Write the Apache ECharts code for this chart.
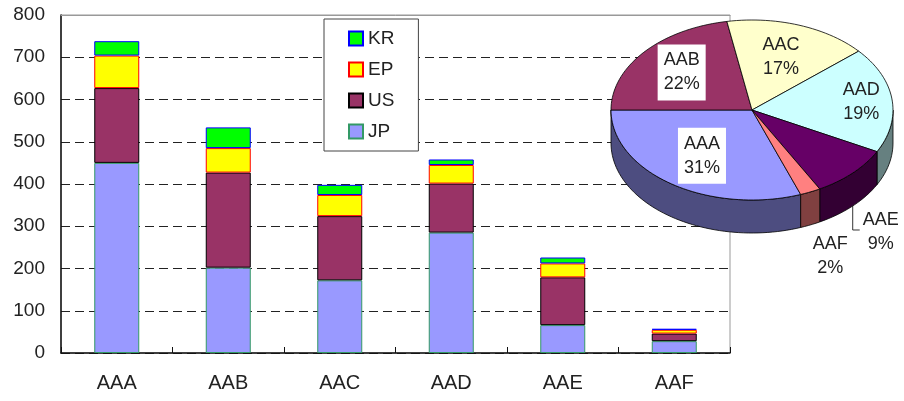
<!DOCTYPE html>
<html lang="en">
<head>
    <meta charset="utf-8">
    <title>Stacked bars with pie</title>
    <script src="https://cdn.jsdelivr.net/npm/echarts@6/dist/echarts.min.js"></script>
    <style>
        html, body { margin: 0; padding: 0; background: #fff; }
        #divChart { width: 904px; height: 401px; }
    </style>
</head>
<body>
<div id="divChart"></div>

<script>
    // categories and stacked values
    var categories = ['AAA', 'AAB', 'AAC', 'AAD', 'AAE', 'AAF'];
    var jp = [450, 202, 172, 285, 66, 28];
    var us = [177, 225, 152, 116, 113, 18];
    var ep = [77, 58, 50, 44, 33, 9];
    var kr = [34, 49, 24, 13, 14, 2];
    var yTicks = [0, 100, 200, 300, 400, 500, 600, 700, 800];

    // pie look (excel-ish 3d)
    var pieTop = ['#9999ff', '#993366', '#ffffcc', '#ccffff', '#660066', '#ff8080'];
    var pieSide = ['#4d4d80', '#4d1a33', '#808066', '#668080', '#330033', '#804040'];
    var labelR = [0.62, 0.65, 0.62, 0.78, 0, 0];

    var FONT = '"Liberation Sans", Arial, sans-serif';

    // pie totals come from the stacked bars
    var totals = [];
    var grand = 0;
    for (var i = 0; i < categories.length; i++) {
        totals.push(jp[i] + us[i] + ep[i] + kr[i]);
        grand += totals[i];
    }

    // layout of the fake 3d pie
    var cx = 752, cy = 110, rx = 141, ry = 90, depth = 33;
    var startT = 180 - 360 * totals[0] / grand;

    var sliceStart = [];
    var acc = startT;
    for (var i = 0; i < totals.length; i++) {
        sliceStart.push(acc);
        acc += 360 * totals[i] / grand;
    }

    function pt(t, dy) {
        var r = t * Math.PI / 180;
        return [cx + rx * Math.cos(r), cy + ry * Math.sin(r) + (dy || 0)];
    }

    function arc(t1, t2, dy) {
        var pts = [];
        var n = Math.max(2, Math.ceil((t2 - t1) / 2));
        for (var k = 0; k <= n; k++) {
            pts.push(pt(t1 + (t2 - t1) * k / n, dy));
        }
        return pts;
    }

    function renderSlice(params, api) {
        var idx = params.dataIndex;
        var span = 360 * api.value(0) / grand;
        var t1 = sliceStart[idx];
        var t2 = t1 + span;
        var children = [];

        // outer wall, only the front half (0..180 in screen angles)
        var ranges = [[0, 180], [360, 540]];
        ranges.forEach(function (rg) {
            var a = Math.max(t1, rg[0]);
            var b = Math.min(t2, rg[1]);
            if (b > a) {
                var topPts = arc(a, b, 0);
                var botPts = arc(a, b, depth).reverse();
                children.push({
                    type: 'polygon',
                    shape: { points: topPts.concat(botPts) },
                    style: { fill: pieSide[idx], stroke: '#000', lineWidth: 0.8 }
                });
            }
        });

        // top face
        children.push({
            type: 'polygon',
            shape: { points: [[cx, cy]].concat(arc(t1, t2, 0)) },
            style: { fill: pieTop[idx], stroke: '#000', lineWidth: 0.8 }
        });

        var pct = Math.round(100 * api.value(0) / grand) + '%';
        var mid = (t1 + t2) / 2 * Math.PI / 180;
        var txt = categories[idx] + '\n' + pct;

        if (labelR[idx] > 0) {
            var boxed = idx < 2;
            children.push({
                type: 'text',
                z2: 10,
                style: {
                    text: txt,
                    x: cx + rx * labelR[idx] * Math.cos(mid),
                    y: cy + ry * labelR[idx] * Math.sin(mid),
                    align: 'center',
                    verticalAlign: 'middle',
                    fontSize: 18,
                    fontFamily: FONT,
                    lineHeight: 24,
                    fill: '#222',
                    backgroundColor: boxed ? '#fff' : null,
                    padding: boxed ? [4, 6] : 0
                }
            });
        } else {
            var edge = pt((t1 + t2) / 2, depth);
            if (idx === 4) {
                children.push({
                    type: 'polyline',
                    shape: { points: [edge, [edge[0], edge[1] + 24], [edge[0] + 7, edge[1] + 24]] },
                    style: { stroke: '#000', lineWidth: 0.8, fill: null }
                });
                children.push({
                    type: 'text',
                    z2: 10,
                    style: {
                        text: txt, x: edge[0] + 28, y: edge[1] + 26,
                        align: 'center', verticalAlign: 'middle',
                        fontSize: 18, fontFamily: FONT, lineHeight: 24, fill: '#222'
                    }
                });
            } else {
                children.push({
                    type: 'text',
                    z2: 10,
                    style: {
                        text: txt, x: edge[0] + 20, y: edge[1] + 31,
                        align: 'center', verticalAlign: 'middle',
                        fontSize: 18, fontFamily: FONT, lineHeight: 24, fill: '#222'
                    }
                });
            }
        }

        return { type: 'group', children: children };
    }

    var myChart = echarts.init(document.getElementById('divChart'));

    var option = {
        animation: false,
        backgroundColor: '#fff',
        textStyle: { fontFamily: FONT },
        legend: {
            data: ['KR', 'EP', 'US', 'JP'],
            orient: 'vertical',
            left: 324,
            top: 19,
            padding: [10, 24, 10, 24],
            itemGap: 12,
            itemWidth: 14,
            itemHeight: 14,
            borderColor: '#444',
            borderWidth: 1,
            backgroundColor: '#fff',
            borderRadius: 0,
            icon: 'rect',
            textStyle: { fontSize: 19, color: '#222', lineHeight: 19, fontFamily: FONT }
        },
        grid: {
            left: 61,
            right: 174,
            top: 15,
            bottom: 48,
            show: true,
            borderColor: '#999',
            borderWidth: 1
        },
        xAxis: [
            {
                type: 'category',
                data: categories,
                axisLine: { lineStyle: { color: '#111', width: 1.5 } },
                axisTick: { show: true, inside: true, length: 6, lineStyle: { color: '#111' } },
                axisLabel: { fontSize: 20, color: '#222', margin: 20, fontFamily: FONT }
            },
            {
                // solid grey frame line on top, drawn over the 800 grid line
                type: 'category',
                position: 'top',
                data: categories,
                z: 5,
                axisLine: { lineStyle: { color: '#999', width: 1 } },
                axisTick: { show: false },
                axisLabel: { show: false }
            }
        ],
        yAxis: {
            type: 'value',
            min: yTicks[0],
            max: yTicks[yTicks.length - 1],
            interval: 100,
            axisLine: { show: true, lineStyle: { color: '#111', width: 1.5 } },
            axisTick: { show: false },
            axisLabel: { fontSize: 19, color: '#222', margin: 16, fontFamily: FONT },
            splitLine: { show: true, lineStyle: { color: '#222', type: [9, 5], width: 1 } }
        },
        series: [
            {
                name: 'JP', type: 'bar', stack: 'all', barWidth: 45, data: jp,
                itemStyle: { color: '#9999ff', borderColor: '#339966', borderWidth: 1 }
            },
            {
                name: 'US', type: 'bar', stack: 'all', barWidth: 45, data: us,
                itemStyle: { color: '#993366', borderColor: '#000', borderWidth: 1 }
            },
            {
                name: 'EP', type: 'bar', stack: 'all', barWidth: 45, data: ep,
                itemStyle: { color: '#ffff00', borderColor: '#ff0000', borderWidth: 1 }
            },
            {
                name: 'KR', type: 'bar', stack: 'all', barWidth: 45, data: kr,
                itemStyle: { color: '#00ff00', borderColor: '#0000ff', borderWidth: 1 }
            },
            {
                name: 'share', type: 'custom', coordinateSystem: 'none',
                data: totals, renderItem: renderSlice, z: 10, silent: true
            }
        ]
    };

    myChart.setOption(option);
</script>
</body>
</html>
